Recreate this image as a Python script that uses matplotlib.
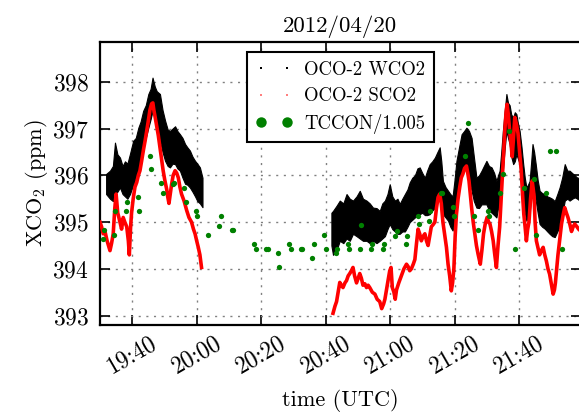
import matplotlib
matplotlib.use("Agg")
import matplotlib.pyplot as plt
import matplotlib.dates as mdates
from matplotlib.lines import Line2D
import numpy as np
import pandas as pd

plt.rcParams['font.family'] = 'cmr10'
plt.rcParams['mathtext.fontset'] = 'cm'
plt.rcParams['axes.formatter.use_mathtext'] = True

# minutes after 19:30 UTC on 2012/04/20
t0 = pd.Timestamp('2012-04-20 19:30')

# OCO-2 WCO2 retrievals, spread of the soundings (min/max) per time step
wco2_t1 = [1.9, 3.1, 4.0, 4.65, 5.4, 6.2, 7.0, 7.75, 8.5, 9.3, 10.3, 11.1, 11.9, 12.6,
           13.4, 14.2, 15.0, 15.7, 16.3, 17.0, 17.6, 18.6, 19.4, 20.2, 21.0, 21.7, 22.5,
           23.3, 24.0, 24.8, 25.6, 26.4, 27.1, 27.9, 28.7, 29.5, 30.2, 31.0, 31.8]
wco2_lo1 = [395.6, 395.5, 395.45, 395.6, 395.65, 395.74, 395.6, 395.55, 395.5, 395.6, 395.8,
            395.95, 396.1, 396.3, 396.6, 396.8, 397.02, 397.2, 397.38, 397.3, 397.1, 396.74,
            396.5, 396.31, 396.2, 396.17, 396.25, 396.24, 396.15, 396.1, 395.95, 395.82,
            395.8, 395.74, 395.65, 395.55, 395.45, 395.4, 395.32]
wco2_hi1 = [396.03, 396.1, 396.2, 396.7, 396.45, 396.38, 396.2, 396.3, 396.25, 396.46, 396.74,
            396.8, 397.02, 397.15, 397.38, 397.5, 397.74, 397.85, 398.09, 397.9, 397.8, 397.74,
            397.4, 397.17, 396.98, 396.95, 397.0, 397.05, 396.95, 396.88, 396.8, 396.67,
            396.6, 396.53, 396.4, 396.31, 396.25, 396.17, 395.95]

wco2_t2 = [71.8, 72.3, 73.4, 74.4, 75.5, 76.5, 77.5, 78.5, 79.6, 80.6, 81.6, 82.7, 83.7, 84.7,
           85.8, 86.8, 87.6, 88.4, 89.2, 89.9, 90.7, 91.5, 92.3, 93.0, 93.8, 94.6, 95.4, 96.1,
           96.9, 97.7, 98.5, 99.2, 100.0, 100.8, 101.5, 102.3, 103.1, 103.9, 104.7, 105.4,
           105.9, 106.4, 107.2, 108.0, 108.7, 109.4, 110.0, 110.6, 111.4, 112.2, 113.0, 113.7,
           114.5, 115.3, 116.0, 116.8, 117.6, 118.4, 119.1, 119.9, 120.7, 121.5, 122.3, 123.0,
           123.5, 124.0, 124.5, 125.0, 125.6, 126.1, 126.6, 127.1, 127.6, 128.2, 128.7, 129.2,
           129.7, 130.2, 130.8, 131.3, 131.8, 132.3, 132.8, 133.3, 133.8, 134.2, 134.7, 135.2,
           135.8, 136.4, 137.2, 138.0, 138.8, 139.5, 140.3, 141.1, 141.9, 142.6, 143.4, 144.2,
           145.0, 145.7, 146.5, 147.3, 148.1, 149.0, 150.0]
wco2_lo2 = [394.5, 394.3, 394.4, 394.6, 394.55, 394.65, 394.6, 394.75, 394.7, 394.65, 394.6,
            394.6, 394.55, 394.6, 394.55, 394.6, 394.65, 394.7, 394.85, 394.96, 394.85, 394.8,
            394.75, 394.75, 394.8, 394.8, 394.9, 395.0, 395.05, 395.1, 395.15, 395.17, 395.2,
            395.15, 395.15, 395.17, 395.25, 395.3, 395.45, 395.6, 395.4, 395.17, 395.1, 395.03,
            394.9, 394.82, 395.0, 395.3, 395.7, 396.1, 396.15, 396.17, 395.9, 395.67, 395.45,
            395.31, 395.3, 395.38, 395.38, 395.38, 395.25, 395.2, 395.15, 395.1, 395.3, 395.31,
            395.7, 396.1, 396.6, 396.95, 396.8, 396.67, 396.4, 396.24, 396.3, 396.45, 396.35,
            396.24, 395.8, 395.46, 395.2, 395.03, 395.1, 395.17, 395.6, 395.88, 395.7, 395.46,
            395.2, 394.96, 394.9, 394.86, 394.8, 394.75, 394.7, 394.68, 394.8, 394.9, 395.15,
            395.46, 395.5, 395.46, 395.5, 395.53, 395.5, 395.45, 395.5]
wco2_hi2 = [395.2, 395.24, 395.35, 395.46, 395.4, 395.6, 395.5, 395.46, 395.55, 395.67, 395.5,
            395.46, 395.4, 395.31, 395.3, 395.24, 395.4, 395.46, 395.6, 395.81, 395.55, 395.46,
            395.5, 395.39, 395.5, 395.6, 395.7, 395.85, 395.95, 396.0, 396.15, 396.17, 396.05,
            395.95, 396.1, 396.24, 396.3, 396.38, 396.5, 396.6, 396.3, 395.88, 395.75, 395.67,
            395.6, 395.55, 395.9, 396.31, 396.6, 396.88, 396.95, 397.02, 396.95, 396.8, 396.4,
            395.95, 396.0, 396.1, 396.2, 396.31, 396.2, 396.17, 396.05, 395.88, 396.0, 396.1,
            396.5, 396.95, 397.4, 397.74, 397.55, 397.5, 397.3, 397.24, 397.35, 397.31, 397.1,
            396.95, 396.6, 396.25, 395.95, 395.74, 395.8, 395.88, 396.3, 396.67, 396.5, 396.24,
            395.9, 395.67, 395.62, 395.6, 395.55, 395.53, 395.5, 395.45, 395.6, 395.74, 395.95,
            396.24, 396.1, 396.1, 396.05, 396.0, 395.95, 395.95, 396.0]

# OCO-2 SCO2 retrievals
sco2_t1 = [0.0, 0.5, 1.0, 1.55, 2.2, 3.1, 3.6, 4.1, 4.6, 5.0, 5.5, 6.2, 6.7, 7.2, 7.7, 8.3,
           8.8, 9.1, 9.5, 9.8, 10.3, 10.85, 11.4, 11.9, 12.4, 12.9, 13.5, 14.0, 14.5, 15.0,
           15.5, 16.0, 16.4, 16.7, 17.1, 17.6, 18.1, 18.6, 19.1, 19.6, 20.1, 20.7, 21.0, 21.4,
           21.8, 22.2, 22.7, 23.3, 23.8, 24.3, 24.8, 25.3, 26.1, 26.9, 27.6, 28.4, 29.0, 29.5,
           30.0, 30.5, 31.0, 31.5]
sco2_v1 = [395.0, 394.9, 394.75, 394.8, 394.6, 394.39, 394.55, 394.75, 395.3, 395.6, 395.2,
           395.0, 394.85, 395.1, 395.0, 394.9, 394.6, 394.3, 394.9, 395.2, 395.5, 395.75,
           395.85, 396.0, 396.1, 396.3, 396.55, 396.74, 396.95, 397.17, 397.4, 397.53, 397.55,
           397.4, 397.25, 397.05, 396.85, 396.6, 396.35, 396.1, 395.9, 395.7, 395.55, 395.4,
           395.6, 395.8, 396.0, 396.1, 396.05, 395.95, 395.75, 395.6, 395.45, 395.25, 395.1,
           395.0, 394.85, 394.75, 394.6, 394.46, 394.3, 394.03]

sco2_t2 = [72.3, 72.9, 73.4, 73.9, 74.4, 74.9, 75.4, 76.0, 76.5, 77.0, 77.5, 78.0, 78.5, 79.0,
           79.6, 80.1, 80.6, 81.1, 81.6, 82.2, 82.7, 83.2, 83.7, 84.5, 85.3, 86.0, 86.8, 87.4,
           88.0, 88.4, 89.0, 89.5, 89.9, 90.3, 90.7, 91.2, 91.6, 92.0, 92.7, 93.5, 94.3, 95.1,
           95.6, 96.1, 96.6, 97.2, 97.7, 98.2, 98.7, 99.2, 99.7, 100.3, 100.8, 101.3, 101.8,
           102.3, 102.8, 103.4, 103.9, 104.4, 104.9, 105.4, 105.9, 106.4, 107.0, 107.5, 108.0,
           108.5, 109.0, 109.4, 109.8, 110.2, 110.6, 111.1, 111.6, 112.1, 112.6, 113.1, 113.7,
           114.1, 114.5, 114.9, 115.3, 115.8, 116.3, 116.8, 117.3, 117.7, 118.0, 118.5, 119.0,
           119.5, 120.1, 120.6, 121.0, 121.5, 122.0, 122.5, 123.0, 123.5, 124.0, 124.4, 124.8,
           125.2, 125.6, 126.0, 126.3, 126.7, 127.1, 127.5, 127.9, 128.3, 128.7, 129.2, 129.7,
           130.2, 130.7, 131.1, 131.5, 131.9, 132.3, 132.7, 133.1, 133.6, 134.1, 134.7, 135.0,
           135.4, 135.9, 136.4, 137.0, 137.5, 138.0, 138.5, 139.0, 139.5, 140.0, 140.6, 141.0,
           141.3, 141.7, 142.1, 142.6, 143.2, 143.7, 144.2, 144.7, 145.2, 145.8, 146.3, 146.8,
           147.3, 148.0, 148.5, 149.3, 150.0]
sco2_v2 = [393.05, 393.2, 393.3, 393.5, 393.71, 393.65, 393.6, 393.7, 393.75, 393.85, 393.9,
           393.96, 394.03, 393.85, 393.7, 393.8, 393.9, 393.8, 393.65, 393.68, 393.6, 393.65,
           393.6, 393.5, 393.46, 393.35, 393.3, 393.15, 393.25, 393.35, 393.6, 393.8, 393.96,
           394.03, 393.6, 393.5, 393.35, 393.55, 393.7, 393.85, 394.0, 394.1, 394.05, 393.96,
           394.0, 394.1, 394.2, 394.54, 394.85, 394.75, 394.6, 394.7, 394.75, 394.6, 394.5,
           394.7, 394.9, 394.95, 395.0, 395.3, 395.53, 395.6, 395.4, 395.0, 394.7, 394.46,
           394.1, 393.85, 393.53, 393.7, 394.0, 394.7, 395.17, 395.5, 395.74, 395.95, 396.03,
           396.15, 396.2, 396.05, 395.88, 395.6, 395.31, 395.0, 394.75, 394.5, 394.32, 394.2,
           394.1, 394.4, 394.75, 394.95, 395.1, 395.0, 394.96, 394.8, 394.6, 394.3, 394.03,
           394.5, 394.89, 395.4, 395.88, 396.4, 396.95, 397.35, 397.52, 397.3, 396.95, 396.7,
           396.4, 396.8, 397.24, 397.1, 396.9, 396.5, 396.1, 395.6, 395.17, 394.9, 394.6,
           394.85, 395.0, 395.5, 395.88, 395.55, 395.0, 394.6, 394.45, 394.3, 394.4, 394.46,
           394.3, 394.17, 394.0, 393.89, 393.7, 393.46, 393.55, 393.7, 394.0, 394.3, 394.6,
           394.96, 395.15, 395.31, 395.2, 395.1, 394.95, 394.8, 394.9, 394.96, 394.9, 394.85,
           394.8, 394.8]

# TCCON (scaled by 1/1.005)
tccon_t = [0.83, 1.24, 4.34, 4.65, 8.06, 8.47, 11.7, 12.2, 15.5, 15.8, 18.9, 19.4, 22.5, 23.1,
           26.2, 26.7, 29.8, 30.2, 33.5, 37.0, 37.5, 40.9, 41.2, 47.9, 48.4, 51.6, 52.0, 55.2,
           55.6, 58.7, 59.2, 62.3, 62.8, 65.9, 66.3, 69.6, 70.0, 73.2, 73.6, 77.0, 77.3, 80.6,
           80.9, 84.2, 84.5, 87.8, 88.1, 91.6, 92.0, 95.1, 95.4, 98.7, 99.0, 102.0, 102.3,
           105.8, 106.1, 109.5, 109.8, 113.2, 114.2, 116.1, 117.2, 120.4, 120.7, 124.0, 125.0,
           126.9, 128.7, 131.6, 134.7, 135.2, 138.3, 139.5, 141.4, 143.2]
tccon_v = [394.64, 394.83, 394.73, 395.23, 395.23, 395.44, 395.53, 395.23, 396.42, 396.13,
           395.83, 395.63, 395.81, 395.83, 395.74, 395.44, 395.23, 395.14, 394.73, 394.92,
           395.13, 394.83, 394.83, 394.53, 394.42, 394.43, 394.43, 394.34, 394.03, 394.53,
           394.42, 394.43, 394.43, 394.23, 394.53, 394.73, 394.43, 394.33, 394.42, 394.53,
           394.42, 394.42, 394.94, 394.42, 394.53, 394.42, 394.53, 394.71, 394.82, 394.53,
           394.71, 395.14, 394.96, 395.03, 395.24, 395.63, 395.63, 395.33, 395.14, 396.42,
           397.13, 395.14, 394.83, 395.24, 395.14, 395.63, 396.03, 396.94, 394.42, 395.74,
           395.93, 394.72, 395.63, 396.53, 396.53, 394.42]


def to_time(minutes):
    return (t0 + pd.to_timedelta(np.asarray(minutes), unit='min')).to_numpy()


fig = plt.figure(figsize=(5.79, 4.16), dpi=100)
ax = fig.add_axes([0.1727, 0.2188, 0.8305, 0.680])

for t, lo, hi in [(wco2_t1, wco2_lo1, wco2_hi1), (wco2_t2, wco2_lo2, wco2_hi2)]:
    ax.fill_between(to_time(t), lo, hi, color='black', lw=0.8, zorder=2)

for t, v in [(sco2_t1, sco2_v1), (sco2_t2, sco2_v2)]:
    ax.plot(to_time(t), v, color='red', lw=2.6, zorder=3)

ax.plot(to_time(tccon_t), tccon_v, 'o', color='green', ms=3.8, mew=0, zorder=4)

ax.set_xlim(to_time([0, 149.2]))
ax.set_ylim(392.8, 398.85)
ax.set_yticks([393, 394, 395, 396, 397, 398])
ax.xaxis.set_major_locator(mdates.MinuteLocator(byminute=[0, 20, 40]))
ax.xaxis.set_major_formatter(mdates.DateFormatter('%H:%M'))

ax.grid(True, ls=(0, (1.5, 4)), color='0.5', lw=1.0)
ax.tick_params(direction='in', top=True, right=True, length=7, width=1.2,
               labelsize=17, pad=8)
ax.tick_params(axis='x', labelrotation=30, pad=5)
for s in ax.spines.values():
    s.set_linewidth(1.6)

ax.set_xlabel('time (UTC)', fontsize=16, labelpad=8)
ax.set_ylabel('XCO$_2$ (ppm)', fontsize=16, labelpad=1)
ax.set_title('2012/04/20', fontsize=16.5, pad=7)

handles = [
    Line2D([], [], ls='none', marker='s', ms=2, color='black', mew=0),
    Line2D([], [], ls='none', marker='s', ms=2, color='#ff7f7f', mew=0),
    Line2D([], [], ls='none', marker='o', ms=7.5, color='green', mew=0),
]
leg = ax.legend(handles, ['OCO-2 WCO2', 'OCO-2 SCO2', 'TCCON/1.005'], loc='upper center',
                numpoints=2, fontsize=13.5, fancybox=False, framealpha=1,
                edgecolor='black', borderaxespad=0.55, labelspacing=0.45,
                handletextpad=0.6, borderpad=0.45)
leg.get_frame().set_linewidth(1.5)
leg.set_zorder(10)

fig.savefig('out.png', dpi=100)
